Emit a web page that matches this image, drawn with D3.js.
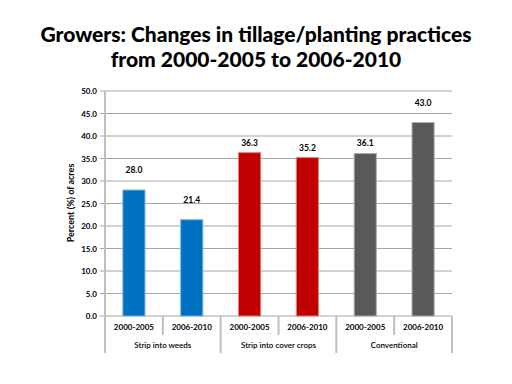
<!DOCTYPE html>
<html>
<head>
<meta charset="utf-8">
<script src="https://cdn.jsdelivr.net/npm/d3@7"></script>
<style>
  body { margin: 0; background: #fff; }
  svg text { font-family: Lato, "Open Sans", sans-serif; fill: #000; }
</style>
</head>
<body>
<svg id="chart" width="512" height="384"></svg>
<script>
// chart data
var periods = ["2000-2005", "2006-2010", "2000-2005", "2006-2010", "2000-2005", "2006-2010"];
var groups = ["Strip into weeds", "Strip into cover crops", "Conventional"];
var values = [28.0, 21.4, 36.3, 35.2, 36.1, 43.0];
var yTicks = [0, 5, 10, 15, 20, 25, 30, 35, 40, 45, 50];

// layout
var colors = ["#0070c0", "#c00000", "#595959"];
var edges = ["#7fb5e0", "#e07f7f", "#acacac"];
var labelLift = [20, 20, 10, 10, 11, 20];
var plotL = 105, plotR = 452, plotT = 91, plotB = 316;

var svg = d3.select("#chart");

svg.append("text")
  .attr("x", 256).attr("y", 42)
  .attr("text-anchor", "middle")
  .style("font-size", "21px").style("font-weight", "900")
  .text("Growers: Changes in tillage/planting practices");
svg.append("text")
  .attr("x", 256).attr("y", 67)
  .attr("text-anchor", "middle")
  .style("font-size", "21px").style("font-weight", "900")
  .text("from 2000-2005 to 2006-2010");

var x = d3.scaleBand()
  .domain(d3.range(values.length))
  .range([plotL, plotR])
  .paddingInner(0.6).paddingOuter(0.3);
var slot = (plotR - plotL) / values.length;
var y = d3.scaleLinear().domain([0, 50]).range([plotB, plotT]);

// gridlines
svg.append("g").selectAll("line")
  .data(yTicks).enter().append("line")
  .attr("x1", plotL - 5).attr("x2", plotR)
  .attr("y1", function(d) { return y(d); })
  .attr("y2", function(d) { return y(d); })
  .attr("stroke", "#a6a6a6").attr("stroke-width", 1);

// y axis
var yAxis = svg.append("g")
  .attr("transform", "translate(" + plotL + ",0)")
  .call(d3.axisLeft(y).tickValues(yTicks).tickSize(0).tickPadding(8)
    .tickFormat(d3.format(".1f")));
yAxis.select(".domain").remove();
yAxis.selectAll("text")
  .style("font-size", "8px").style("font-weight", "bold")
  .style("font-family", "Lato, sans-serif");

svg.append("line")
  .attr("x1", plotL).attr("x2", plotL)
  .attr("y1", plotT).attr("y2", 353)
  .attr("stroke", "#c0c0c0").attr("stroke-width", 2);

svg.append("text")
  .attr("transform", "translate(74,203) rotate(-90)")
  .attr("text-anchor", "middle")
  .style("font-size", "9px").style("font-weight", "bold")
  .text("Percent (%) of acres");

// bars
svg.append("g").selectAll("rect")
  .data(values).enter().append("rect")
  .attr("x", function(d, i) { return x(i) + 0.5; })
  .attr("y", function(d) { return y(d); })
  .attr("width", x.bandwidth() - 1)
  .attr("height", function(d) { return plotB - y(d); })
  .attr("fill", function(d, i) { return colors[Math.floor(i / 2)]; })
  .attr("stroke", function(d, i) { return edges[Math.floor(i / 2)]; })
  .attr("stroke-width", 1);

svg.append("g").selectAll("text")
  .data(values).enter().append("text")
  .attr("x", function(d, i) { return x(i) + x.bandwidth() / 2; })
  .attr("y", function(d, i) { return y(d) - labelLift[i] + 3; })
  .attr("text-anchor", "middle")
  .style("font-size", "8.5px").style("font-weight", "bold")
  .text(function(d) { return d3.format(".1f")(d); });

// category axis
svg.append("g").selectAll("line")
  .data(d3.range(1, values.length + 1)).enter().append("line")
  .attr("x1", function(i) { return plotL + i * slot; })
  .attr("x2", function(i) { return plotL + i * slot; })
  .attr("y1", plotB)
  .attr("y2", function(i) { return i % 2 === 0 ? 353 : 335; })
  .attr("stroke", "#c0c0c0").attr("stroke-width", 2);

svg.append("g").selectAll("text")
  .data(periods).enter().append("text")
  .attr("x", function(d, i) { return plotL + (i + 0.5) * slot; })
  .attr("y", 330)
  .attr("text-anchor", "middle")
  .style("font-size", "8px").style("font-weight", "bold")
  .text(function(d) { return d; });

svg.append("g").selectAll("text")
  .data(groups).enter().append("text")
  .attr("x", function(d, i) { return plotL + (i + 0.5) * 2 * slot; })
  .attr("y", 348)
  .attr("text-anchor", "middle")
  .style("font-size", "8px").style("font-weight", "600")
  .text(function(d) { return d; });
</script>
</body>
</html>
